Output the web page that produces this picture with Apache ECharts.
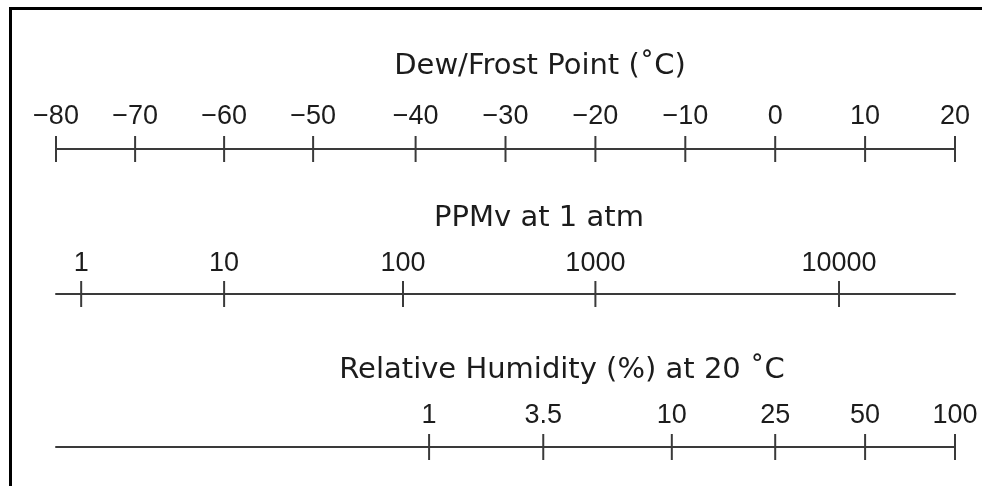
<!DOCTYPE html>
<html>
<head>
<meta charset="utf-8">
<script src="https://cdn.jsdelivr.net/npm/echarts@6/dist/echarts.min.js"></script>
<style>
html,body{margin:0;padding:0;background:#fff;}
#chart{width:982px;height:486px;}
</style>
</head>
<body>
<div id="chart"></div>
<script>
// Tick labels of each scale and their positions on the shared dew-point (°C) scale
const dewLabels = ['\u221280','\u221270','\u221260','\u221250','\u221240','\u221230','\u221220','\u221210','0','10','20'];
const dewPos = [-80, -71.2, -61.3, -51.4, -40, -30, -20, -10, 0, 10, 20];

const ppmLabels = ['1','10','100','1000','10000'];
const ppmPos = [-77.2, -61.3, -41.4, -20, 7.1];

const rhLabels = ['1','3.5','10','25','50','100'];
const rhPos = [-38.5, -25.8, -11.5, 0, 10, 20];

const scaleTitles = ['Dew/Frost Point (\u02DAC)', 'PPMv at 1 atm', 'Relative Humidity (%) at 20 \u02DAC'];
const scaleMin = -80, scaleMax = 20;

const FONT = "'Liberation Sans', Arial, Helvetica, sans-serif";
const TITLE_FONT = "'DejaVu Sans', 'Liberation Sans', sans-serif";
const TXT = '#1c1c1c';
const LINE = '#3a3a3a';

const lineYs = [149, 294, 447];
const labelOffsets = [-32, -30, -31];
const titlePos = [[540, 66], [539, 218], [562, 370]];
const scales = [
  {labels: dewLabels, pos: dewPos},
  {labels: ppmLabels, pos: ppmPos},
  {labels: rhLabels, pos: rhPos}
];

const grids = [], xAxes = [], yAxes = [], series = [], graphics = [];
scales.forEach((s, k) => {
  grids.push({left: 56, right: 27, top: lineYs[k] - 20, height: 40, containLabel: false});
  xAxes.push({
    type: 'value', gridIndex: k, min: scaleMin, max: scaleMax,
    axisLine: {show: true, onZero: true, lineStyle: {color: LINE, width: 2}},
    axisTick: {show: false}, axisLabel: {show: false}, splitLine: {show: false}
  });
  yAxes.push({type: 'value', gridIndex: k, min: -1, max: 1, show: false});
  series.push({
    type: 'scatter', xAxisIndex: k, yAxisIndex: k,
    symbol: 'rect', symbolSize: [2, 26], silent: true,
    itemStyle: {color: LINE, opacity: 1},
    data: s.pos.map((p, i) => ({value: [p, 0], name: s.labels[i]})),
    label: {
      show: true, position: 'inside', offset: [0, labelOffsets[k]],
      formatter: (d) => d.name, color: TXT, fontFamily: 'Liberation Sans', fontSize: 27,
      align: 'center', verticalAlign: 'middle', textBorderWidth: 0
    },
    emphasis: {disabled: true}
  });
  graphics.push({
    type: 'text', x: titlePos[k][0], y: titlePos[k][1], silent: true,
    style: {text: scaleTitles[k], fill: TXT, font: '29px ' + TITLE_FONT, align: 'center', verticalAlign: 'middle'}
  });
});

graphics.push({
  type: 'rect', silent: true,
  shape: {x: 10.5, y: 8.5, width: 1200, height: 800},
  style: {fill: 'none', stroke: '#000', lineWidth: 3}
});

const chart = echarts.init(document.getElementById('chart'), null, {renderer: 'canvas'});
chart.setOption({
  animation: false,
  backgroundColor: '#fff',
  grid: grids, xAxis: xAxes, yAxis: yAxes, series: series,
  graphic: graphics
});
</script>
</body>
</html>
